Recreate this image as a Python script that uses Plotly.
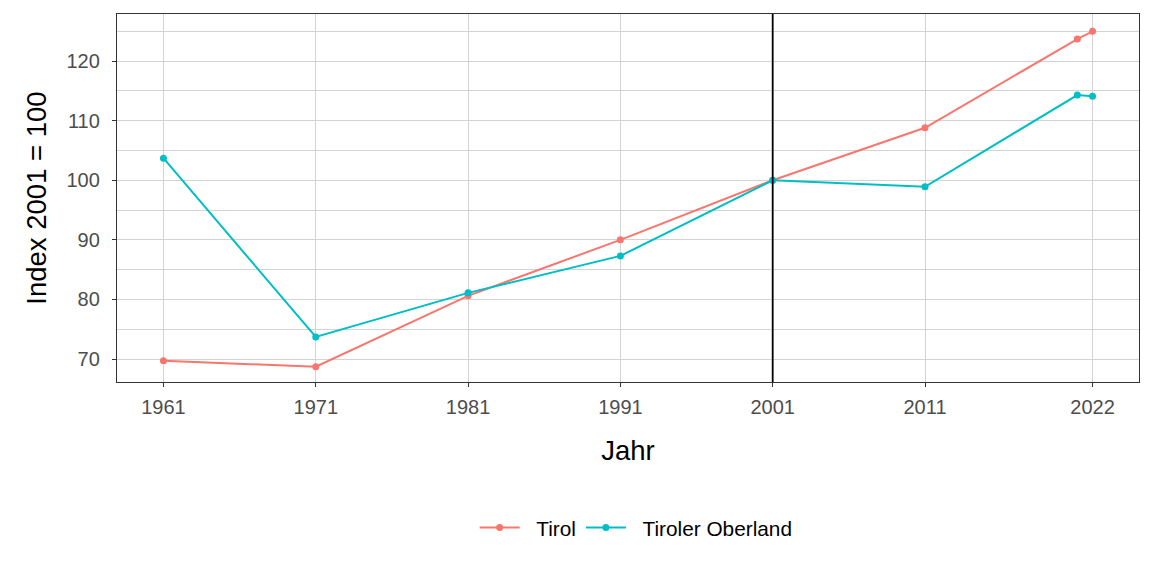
import plotly.graph_objects as go

years = [1961, 1971, 1981, 1991, 2001, 2011, 2021, 2022]
tirol = [69.7, 68.7, 80.6, 90.0, 100.0, 108.8, 123.7, 125.0]
oberland = [103.7, 73.7, 81.1, 87.3, 100.0, 98.9, 114.3, 114.1]
x_ticks = [1961, 1971, 1981, 1991, 2001, 2011, 2022]
y_ticks = [70, 80, 90, 100, 110, 120]
y_minor = [65, 75, 85, 95, 105, 115, 125]
ref_year = 2001
gap = "\u00a0\u00a0"

fig = go.Figure()
fig.add_trace(go.Scatter(x=years, y=tirol, name=gap + "Tirol", mode="lines+markers",
                         line=dict(color="#F8766D", width=2),
                         marker=dict(color="#F8766D", size=7)))
fig.add_trace(go.Scatter(x=years, y=oberland, name=gap + "Tiroler Oberland", mode="lines+markers",
                         line=dict(color="#00BFC4", width=2),
                         marker=dict(color="#00BFC4", size=7)))
fig.add_vline(x=ref_year, line=dict(color="black", width=1.8))

fig.update_layout(
    width=1152, height=576,
    margin=dict(l=109, r=21, t=6, b=202),
    plot_bgcolor="white", paper_bgcolor="white",
    font=dict(family="Liberation Sans, Arial, sans-serif", size=20, color="#4D4D4D"),
    showlegend=True,
    legend=dict(orientation="h", x=0.508, xanchor="center", y=-0.397, yanchor="middle",
                font=dict(size=20.8, color="black"), itemwidth=40),
    xaxis=dict(range=[1957.95, 2025.05], tickvals=x_ticks, ticktext=[str(v) for v in x_ticks],
               showgrid=True, gridcolor="#D3D3D3", gridwidth=1, zeroline=False,
               ticks="outside", ticklen=4, tickcolor="#333333", tickwidth=1,
               showline=True, linecolor="#333333", linewidth=1.3, mirror=True,
               tickfont=dict(size=20, color="#4D4D4D"), ticklabelstandoff=3,
               title=dict(text="Jahr", font=dict(size=27.5, color="black"), standoff=23)),
    yaxis=dict(range=[66.14, 127.9], tickvals=y_ticks,
               showgrid=True, gridcolor="#D3D3D3", gridwidth=1, zeroline=False,
               minor=dict(tickvals=y_minor, showgrid=True,
                          gridcolor="#D3D3D3", gridwidth=1, ticks=""),
               ticks="outside", ticklen=4, tickcolor="#333333", tickwidth=1,
               showline=True, linecolor="#333333", linewidth=1.3, mirror=True,
               tickfont=dict(size=20, color="#4D4D4D"), ticklabelstandoff=8,
               title=dict(text="Index 2001 = 100", font=dict(size=27.5, color="black"), standoff=11)),
)
fig.write_html("out.html")
